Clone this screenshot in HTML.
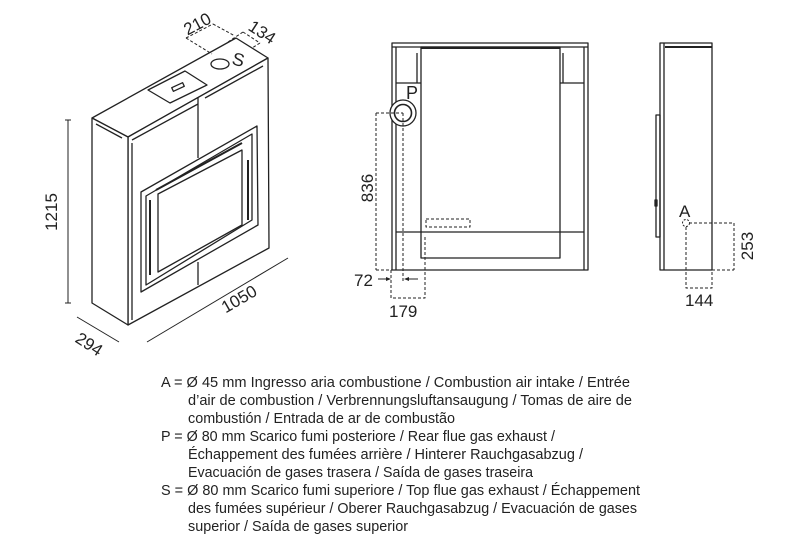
<!DOCTYPE html>
<html><head><meta charset="utf-8"><style>body{margin:0;background:#fff}svg{display:block}</style></head>
<body>
<svg width="790" height="550" viewBox="0 0 790 550" xmlns="http://www.w3.org/2000/svg" font-family="Liberation Sans, sans-serif">
<g fill="none" stroke="#222" stroke-width="1.3" stroke-linejoin="round">
<polygon points="92,118 236,38 268,58 128,137" fill="#fff"/>
<polygon points="128,137 268,58 269,248 128,325" fill="#fff"/>
<polygon points="92,118 128,137 128,325 92,303" fill="#fff"/>
<line x1="96" y1="124" x2="122" y2="138"/>
<line x1="132" y1="140" x2="198" y2="104"/>
<line x1="205" y1="98" x2="263" y2="66"/>
<line x1="198" y1="97" x2="198" y2="158"/>
<line x1="198" y1="262" x2="198" y2="285"/>
<line x1="132" y1="143" x2="132" y2="320"/>
<polygon points="148,90 185,71 207,85 170,103"/>
<rect x="172" y="85" width="12" height="4" transform="rotate(-25 178 87)"/>
<ellipse cx="220" cy="64" rx="9" ry="5"/>
<polygon points="141,192 257,126 258,225 141,292"/>
<polygon points="146,196 252,134 252,220 146,285"/>
<polygon points="158,194 242,150 242,225 158,272"/>
<line x1="156" y1="190" x2="242" y2="143" stroke-width="2"/>
<line x1="150" y1="200" x2="150" y2="275" stroke-width="2"/>
<line x1="248" y1="160" x2="248" y2="220" stroke-width="2"/>
<line x1="68" y1="120" x2="68" y2="303" stroke-width="1"/>
<line x1="65" y1="120" x2="71" y2="120" stroke-width="1"/>
<line x1="65" y1="303" x2="71" y2="303" stroke-width="1"/>
<line x1="77" y1="317" x2="119" y2="342" stroke-width="1"/>
<line x1="147" y1="342" x2="288" y2="258" stroke-width="1"/>
<g stroke-dasharray="3,2" stroke-width="1">
<line x1="186" y1="38" x2="213" y2="24"/>
<line x1="186" y1="38" x2="212" y2="54"/>
<line x1="213" y1="24" x2="235" y2="36"/>
<line x1="228" y1="42" x2="243" y2="32"/>
<line x1="243" y1="32" x2="260" y2="43"/>
<line x1="260" y1="43" x2="252" y2="48"/>
</g>
<rect x="392" y="43" width="196" height="227"/>
<line x1="396" y1="47" x2="396" y2="270"/>
<line x1="584" y1="47" x2="584" y2="270"/>
<line x1="392" y1="47" x2="588" y2="47"/>
<rect x="421" y="47" width="139" height="211" fill="#fff"/>
<line x1="421" y1="48" x2="560" y2="48" stroke-width="2"/>
<line x1="396" y1="83" x2="421" y2="83"/>
<line x1="560" y1="83" x2="584" y2="83"/>
<line x1="396" y1="232" x2="584" y2="232"/>
<line x1="417" y1="53" x2="417" y2="83"/>
<line x1="563" y1="53" x2="563" y2="83"/>
<circle cx="403" cy="113" r="13" fill="#fff"/>
<circle cx="403" cy="113" r="8.5" stroke-width="1.6"/>
<g stroke-dasharray="3,2" stroke-width="1">
<line x1="376" y1="113" x2="403" y2="113"/>
<line x1="376" y1="113" x2="376" y2="270"/>
<line x1="376" y1="270" x2="392" y2="270"/>
<line x1="403" y1="113" x2="403" y2="281"/>
<polyline points="391,270 391,298 425,298 425,235"/>
<rect x="426" y="219" width="44" height="8"/>
</g>
<line x1="378" y1="279" x2="389" y2="279" stroke-width="1"/>
<polygon points="391,279 386,277 386,281" fill="#222" stroke="none"/>
<line x1="407" y1="279" x2="418" y2="279" stroke-width="1"/>
<polygon points="404,279 409,277 409,281" fill="#222" stroke="none"/>
<rect x="660" y="43" width="52" height="227" fill="#fff"/>
<line x1="664" y1="43" x2="664" y2="270"/>
<line x1="665" y1="47" x2="712" y2="47" stroke-width="2"/>
<rect x="656" y="115" width="4" height="122"/>
<rect x="655" y="200" width="2" height="6"/>
<circle cx="686" cy="223" r="3.5" stroke-dasharray="2,1.5" stroke-width="1"/>
<g stroke-dasharray="3,2" stroke-width="1">
<line x1="689" y1="223" x2="734" y2="223"/>
<line x1="734" y1="223" x2="734" y2="270"/>
<line x1="712" y1="270" x2="734" y2="270"/>
<polyline points="686,227 686,288 712,288 712,270"/>
</g>
</g>
<g fill="#222" font-size="17">
<text x="57" y="212" transform="rotate(-90 57 212)" text-anchor="middle">1215</text>
<text x="86" y="349" transform="rotate(33 86 349)" text-anchor="middle">294</text>
<text x="242" y="304" transform="rotate(-30 242 304)" text-anchor="middle">1050</text>
<text x="200" y="29" transform="rotate(-28 200 29)" text-anchor="middle">210</text>
<text x="259" y="37" transform="rotate(33 259 37)" text-anchor="middle">134</text>
<text x="231" y="64" transform="rotate(15 231 64)" font-size="18">S</text>
<text x="406" y="99" font-size="18">P</text>
<text x="373" y="188" transform="rotate(-90 373 188)" text-anchor="middle">836</text>
<text x="354" y="286">72</text>
<text x="389" y="317">179</text>
<text x="679" y="217">A</text>
<text x="753" y="246" transform="rotate(-90 753 246)" text-anchor="middle">253</text>
<text x="685" y="306">144</text>
</g>
<g fill="#222" font-size="15">
<text x="161" y="387" textLength="469" lengthAdjust="spacingAndGlyphs">A = Ø 45 mm Ingresso aria combustione / Combustion air intake / Entrée</text>
<text x="188" y="405" textLength="444" lengthAdjust="spacingAndGlyphs">d’air de combustion / Verbrennungsluftansaugung / Tomas de aire de</text>
<text x="188" y="423" textLength="267" lengthAdjust="spacingAndGlyphs">combustión / Entrada de ar de combustão</text>
<text x="161" y="441" textLength="394" lengthAdjust="spacingAndGlyphs">P = Ø 80 mm Scarico fumi posteriore / Rear flue gas exhaust /</text>
<text x="188" y="459" textLength="395" lengthAdjust="spacingAndGlyphs">Échappement des fumées arrière / Hinterer Rauchgasabzug /</text>
<text x="188" y="477" textLength="345" lengthAdjust="spacingAndGlyphs">Evacuación de gases trasera / Saída de gases traseira</text>
<text x="161" y="495" textLength="479" lengthAdjust="spacingAndGlyphs">S = Ø 80 mm  Scarico fumi superiore / Top flue gas exhaust / Échappement</text>
<text x="188" y="513" textLength="449" lengthAdjust="spacingAndGlyphs">des fumées supérieur / Oberer Rauchgasabzug / Evacuación de gases</text>
<text x="188" y="531" textLength="220" lengthAdjust="spacingAndGlyphs">superior / Saída de gases superior</text>
</g>
</svg>
</body></html>
